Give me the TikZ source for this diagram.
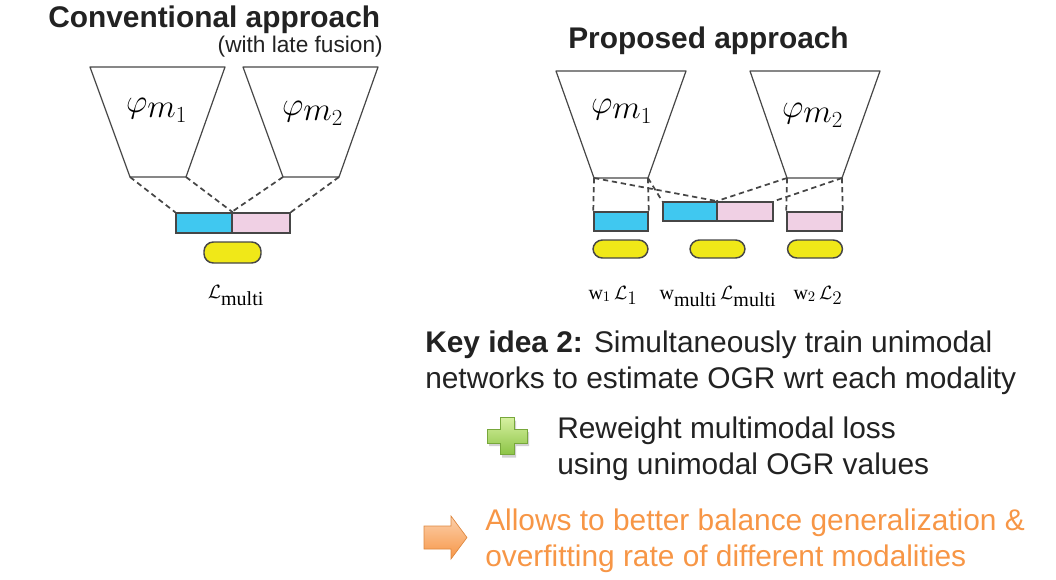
\documentclass[tikz,border=0pt]{standalone}
\usepackage{amsmath}
\usepackage{fontspec}
\setmainfont{Liberation Serif}
\newfontfamily\slidefont{Liberation Sans}
\usepackage{tikz}
\usepackage{xcolor}
\definecolor{barblue}{RGB}{64,200,240}
\definecolor{barpink}{RGB}{240,208,228}
\definecolor{lossyellow}{RGB}{240,232,24}
\definecolor{edgegray}{RGB}{70,70,70}
\definecolor{slidetext}{RGB}{34,34,34}
\definecolor{noteorange}{RGB}{247,150,70}
\colorlet{arrowlight}{noteorange!45!white}
\definecolor{pluslight}{RGB}{214,240,160}
\definecolor{plusdark}{RGB}{140,196,70}
\usetikzlibrary{
  shapes.misc,
  shapes,
}

\begin{document}
\begin{tikzpicture}[x=0.75pt,y=-0.75pt]
	\tikzstyle{every node}=[font=\fontsize{15}{18}\selectfont]
	\tikzstyle{bar}=[draw=edgegray, line width=1.1pt, inner sep=0pt, minimum height=15pt]
	\tikzstyle{loss}=[draw=edgegray, line width=1.1pt, fill=lossyellow, inner sep=0pt, minimum height=15pt, rounded corners=7pt]
	\tikzstyle{link}=[edgegray, line width=1.3pt, dash pattern=on 4pt off 2.8pt]
	\tikzstyle{net}=[edgegray, line width=0.9pt, line join=round]
	\tikzstyle{netlabel}=[font=\fontsize{25}{28}\selectfont]
	\tikzstyle{slide}=[font=\slidefont\fontsize{22.4}{27}\selectfont, text=slidetext, anchor=base west, inner sep=0pt]
	\useasboundingbox (0,0) rectangle (1056,579);
	% titles
	\node (convtitle) [slide, font=\slidefont\bfseries\fontsize{22.4}{27}\selectfont] at (48,27) {Conventional approach};
	\node (convsub) [slide, anchor=base east, font=\slidefont\fontsize{17}{20}\selectfont] at (383,52) {(with late fusion)};
	\node (proptitle) [slide, font=\slidefont\bfseries\fontsize{22.4}{27}\selectfont] at (568,48) {Proposed approach};
	% conventional: encoders
	\coordinate (lb1l) at (130,177);
	\coordinate (lb1r) at (186,177);
	\coordinate (lb2l) at (283,177);
	\coordinate (lb2r) at (339,177);
	\draw [net] (90,67) -- (225,67) -- (lb1r) -- (lb1l) -- cycle;
	\draw [net] (243,67) -- (378,67) -- (lb2r) -- (lb2l) -- cycle;
	\node (lphi1) [netlabel] at (157,110) {$\varphi_{\textstyle m_1}$};
	\node (lphi2) [netlabel] at (313,113) {$\varphi_{\textstyle m_2}$};
	% conventional: fused features and loss
	\node (lblue) [bar, fill=barblue, minimum width=42pt] at (204,223) {};
	\node (lpink) [bar, fill=barpink, minimum width=43.5pt] at (261,223) {};
	\draw [link] (lb1l) -- (lblue.north west);
	\draw [link] (lb1r) -- (lblue.north east);
	\draw [link] (lb2l) -- (lpink.north west);
	\draw [link] (lb2r) -- (lpink.north east);
	\node (lloss) [loss, minimum width=42.75pt, minimum height=15.75pt] at (232.5,252.5) {};
	\node (llab) [anchor=base] at (236,298) {$\mathcal{L}_{\textstyle\mathrm{multi}}$};
	% proposed: encoders
	\coordinate (rb1l) at (594,178);
	\coordinate (rb1r) at (648,178);
	\coordinate (rb2l) at (787,178);
	\coordinate (rb2r) at (842,178);
	\draw [net] (556,71) -- (686,71) -- (rb1r) -- (rb1l) -- cycle;
	\draw [net] (750,71) -- (880,71) -- (rb2r) -- (rb2l) -- cycle;
	\node (rphi1) [netlabel] at (622,111) {$\varphi_{\textstyle m_1}$};
	\node (rphi2) [netlabel] at (813,115) {$\varphi_{\textstyle m_2}$};
	% proposed: unimodal and fused features
	\node (rblue1) [bar, fill=barblue, minimum width=40.5pt, minimum height=14.25pt] at (621,221.5) {};
	\node (rblue) [bar, fill=barblue, minimum width=40.5pt, minimum height=14.25pt] at (690,211.5) {};
	\node (rpink) [bar, fill=barpink, minimum width=42pt, minimum height=14.25pt] at (745,211.5) {};
	\node (rpink2) [bar, fill=barpink, minimum width=41.25pt, minimum height=14.25pt] at (814.5,221.5) {};
	\draw [link] (rb1l) -- (rblue1.north west);
	\draw [link] (rb1r) -- (rblue1.north east);
	\draw [link] (rb1l) -- (rblue.north east);
	\draw [link] (rb1r) -- (rblue.north west);
	\draw [link] (rb2l) -- (rpink.north west);
	\draw [link] (rb2r) -- (rpink.north east);
	\draw [link] (rb2l) -- (rpink2.north west);
	\draw [link] (rb2r) -- (rpink2.north east);
	% proposed: losses
	\node (rloss1) [loss, minimum width=41.25pt, minimum height=13.5pt] at (620.5,249) {};
	\node (rloss) [loss, minimum width=41.25pt, minimum height=13.5pt] at (717.5,249) {};
	\node (rloss2) [loss, minimum width=41.25pt, minimum height=13.5pt] at (815,249) {};
	\node (rlab1) [anchor=base] at (613,299) {$\mathrm{w}_{1}\,\mathcal{L}_{\textstyle 1}$};
	\node (rlab) [anchor=base] at (718,299) {$\mathrm{w}_{\textstyle\mathrm{multi}}\,\mathcal{L}_{\textstyle\mathrm{multi}}$};
	\node (rlab2) [anchor=base] at (818,299) {$\mathrm{w}_{2}\,\mathcal{L}_{\textstyle 2}$};
	% key idea
	\node (key1) [slide] at (425,352) {\textbf{Key idea 2:} Simultaneously train unimodal};
	\node (key2) [slide] at (425,388) {networks to estimate OGR wrt each modality};
	% plus icon
	\fill [black!18] (502,420.5) -- (516,420.5) -- (516,432) -- (529,432) -- (529,446) -- (516,446) -- (516,457.5) -- (502,457.5) -- (502,446) -- (489,446) -- (489,432) -- (502,432) -- cycle;
	\draw [plusdark!85!black, line width=0.5pt, top color=pluslight, bottom color=plusdark] (500,417.5) -- (514,417.5) -- (514,429) -- (527,429) -- (527,443) -- (514,443) -- (514,454.5) -- (500,454.5) -- (500,443) -- (487,443) -- (487,429) -- (500,429) -- cycle;
	\node (reweight1) [slide] at (557,438) {Reweight multimodal loss};
	\node (reweight2) [slide] at (557,474) {using unimodal OGR values};
	% arrow icon
	\draw [noteorange!90!black, line width=0.5pt, top color=arrowlight, bottom color=noteorange] (424,526) -- (451,526) -- (451,516) -- (467,537.5) -- (451,559) -- (451,549) -- (424,549) -- cycle;
	\node (allows1) [slide, text=noteorange] at (485,530) {Allows to better balance generalization \&};
	\node (allows2) [slide, text=noteorange] at (485,566) {overfitting rate of different modalities};
\end{tikzpicture}
\end{document}
